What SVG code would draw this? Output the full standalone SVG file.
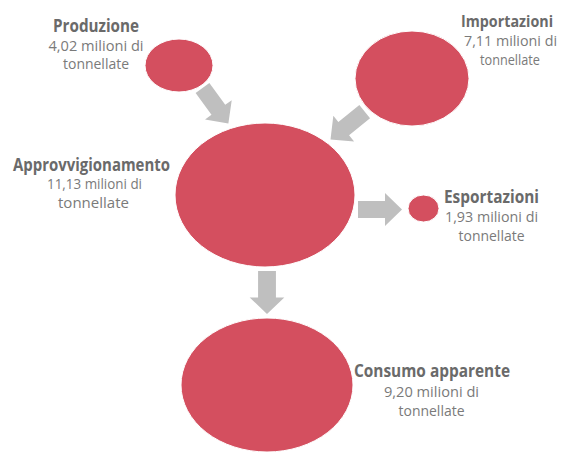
<svg xmlns="http://www.w3.org/2000/svg" width="564" height="454" viewBox="0 0 564 454">
<style>
.node ellipse{fill:#d44f5f;stroke:#ffffff;stroke-width:1}
.t{font-family:"Open Sans","Liberation Sans",sans-serif;font-weight:bold;font-size:17px;fill:#6a6a6a;text-anchor:middle}
.s{font-family:"Open Sans","Liberation Sans",sans-serif;font-size:14px;fill:#7a7a7a;text-anchor:middle}
.arr{fill:#bfbfbf}
</style>
<defs>
<path id="ar" d="M0,-8.5 L27,-8.5 L27,-16.5 L44,0 L27,16.5 L27,8.5 L0,8.5 Z"/>
</defs>
<rect width="564" height="454" fill="#ffffff"/>
<g id="connectors" class="arr">
<use href="#ar" transform="translate(202.5,88) rotate(54)"/>
<use href="#ar" transform="translate(364.7,111.7) rotate(141)"/>
<use href="#ar" transform="translate(358,209.5)"/>
<use href="#ar" transform="translate(267,271) rotate(90) scale(0.98,1.05)"/>
</g>
<g id="produzione" class="node">
<ellipse cx="179" cy="65.5" rx="34" ry="26.5"/>
<text class="t" x="96" y="32" textLength="86" lengthAdjust="spacingAndGlyphs">Produzione</text>
<text class="s" x="96" y="50.5" textLength="95" lengthAdjust="spacingAndGlyphs">4,02 milioni di</text>
<text class="s" x="96" y="69" textLength="66" lengthAdjust="spacingAndGlyphs">tonnellate</text>
</g>
<g id="importazioni" class="node">
<ellipse cx="412" cy="78.5" rx="57" ry="47.5"/>
<text class="t" x="507" y="26.7" textLength="92" lengthAdjust="spacingAndGlyphs" style="font-size:16px">Importazioni</text>
<text class="s" x="510.5" y="46" textLength="93" lengthAdjust="spacingAndGlyphs">7,11 milioni di</text>
<text class="s" x="510" y="65" textLength="60" lengthAdjust="spacingAndGlyphs">tonnellate</text>
</g>
<g id="approvvigionamento" class="node">
<ellipse cx="265" cy="195" rx="90" ry="72"/>
<text class="t" x="91.5" y="170.7" textLength="157" lengthAdjust="spacingAndGlyphs">Approvvigionamento</text>
<text class="s" x="94.5" y="189" textLength="95" lengthAdjust="spacingAndGlyphs">11,13 milioni di</text>
<text class="s" x="93.5" y="208" textLength="71" lengthAdjust="spacingAndGlyphs">tonnellate</text>
</g>
<g id="esportazioni" class="node">
<ellipse cx="423.5" cy="208.5" rx="15.5" ry="13.5"/>
<text class="t" x="491.5" y="202.7" textLength="95" lengthAdjust="spacingAndGlyphs">Esportazioni</text>
<text class="s" x="491.5" y="222" textLength="93" lengthAdjust="spacingAndGlyphs">1,93 milioni di</text>
<text class="s" x="491.5" y="241" textLength="66" lengthAdjust="spacingAndGlyphs">tonnellate</text>
</g>
<g id="consumo" class="node">
<ellipse cx="267" cy="385" rx="86" ry="67"/>
<text class="t" x="432" y="377" textLength="156" lengthAdjust="spacingAndGlyphs">Consumo apparente</text>
<text class="s" x="431.5" y="397" textLength="95" lengthAdjust="spacingAndGlyphs">9,20 milioni di</text>
<text class="s" x="431.5" y="415.7" textLength="66" lengthAdjust="spacingAndGlyphs">tonnellate</text>
</g>
</svg>
